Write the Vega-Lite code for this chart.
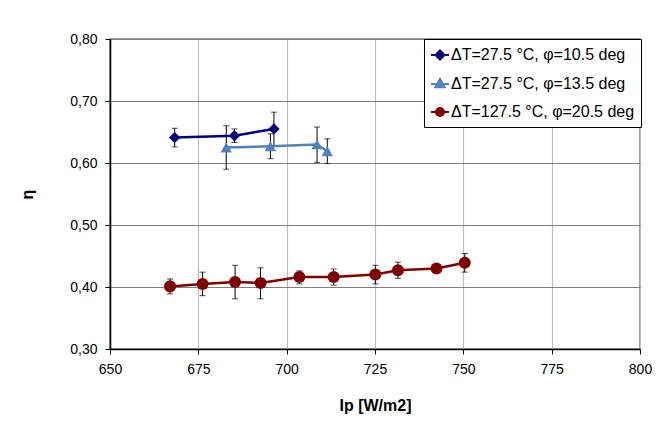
{
  "$schema": "https://vega.github.io/schema/vega-lite/v6.json",
  "autosize": {"type": "none"},
  "width": 530,
  "height": 310,
  "padding": {"left": 110, "top": 39, "right": 27, "bottom": 88},
  "background": "white",
  "config": {
    "font": "Liberation Sans",
    "view": {"stroke": "#7f7f7f", "strokeWidth": 1.5},
    "axis": {"labelFont": "Liberation Sans", "titleFont": "Liberation Sans", "labelColor": "black", "titleColor": "black"},
    "legend": {
      "orient": "none", "legendX": 314, "legendY": 0,
      "fillColor": "white", "strokeColor": "black", "padding": 6,
      "labelFont": "Liberation Sans", "labelFontSize": 16, "labelColor": "black", "labelLimit": 400,
      "labelOffset": 1, "rowPadding": 10, "symbolSize": 324, "symbolStrokeWidth": 2, "symbolOpacity": 1
    }
  },
  "data": {
    "values": [
      {"series": "ΔT=27.5 °C, φ=10.5 deg", "ip": 668.3, "eta": 0.641, "lo": 0.626, "hi": 0.656},
      {"series": "ΔT=27.5 °C, φ=10.5 deg", "ip": 685.2, "eta": 0.644, "lo": 0.633, "hi": 0.655},
      {"series": "ΔT=27.5 °C, φ=10.5 deg", "ip": 696.4, "eta": 0.655, "lo": 0.628, "hi": 0.682},
      {"series": "ΔT=27.5 °C, φ=13.5 deg", "ip": 682.9, "eta": 0.625, "lo": 0.590, "hi": 0.660},
      {"series": "ΔT=27.5 °C, φ=13.5 deg", "ip": 695.4, "eta": 0.627, "lo": 0.607, "hi": 0.647},
      {"series": "ΔT=27.5 °C, φ=13.5 deg", "ip": 708.6, "eta": 0.630, "lo": 0.601, "hi": 0.658},
      {"series": "ΔT=27.5 °C, φ=13.5 deg", "ip": 711.5, "eta": 0.619, "lo": 0.599, "hi": 0.639},
      {"series": "ΔT=127.5 °C, φ=20.5 deg", "ip": 667.0, "eta": 0.401, "lo": 0.389, "hi": 0.413},
      {"series": "ΔT=127.5 °C, φ=20.5 deg", "ip": 676.2, "eta": 0.405, "lo": 0.386, "hi": 0.424},
      {"series": "ΔT=127.5 °C, φ=20.5 deg", "ip": 685.4, "eta": 0.408, "lo": 0.381, "hi": 0.435},
      {"series": "ΔT=127.5 °C, φ=20.5 deg", "ip": 692.6, "eta": 0.4065, "lo": 0.381, "hi": 0.431},
      {"series": "ΔT=127.5 °C, φ=20.5 deg", "ip": 703.6, "eta": 0.416, "lo": 0.405, "hi": 0.426},
      {"series": "ΔT=127.5 °C, φ=20.5 deg", "ip": 713.3, "eta": 0.416, "lo": 0.403, "hi": 0.429},
      {"series": "ΔT=127.5 °C, φ=20.5 deg", "ip": 725.1, "eta": 0.420, "lo": 0.405, "hi": 0.435},
      {"series": "ΔT=127.5 °C, φ=20.5 deg", "ip": 731.5, "eta": 0.427, "lo": 0.414, "hi": 0.440},
      {"series": "ΔT=127.5 °C, φ=20.5 deg", "ip": 742.4, "eta": 0.430, "lo": 0.428, "hi": 0.432},
      {"series": "ΔT=127.5 °C, φ=20.5 deg", "ip": 750.4, "eta": 0.439, "lo": 0.424, "hi": 0.454}
    ]
  },
  "encoding": {
    "x": {
      "field": "ip", "type": "quantitative",
      "scale": {"domain": [650, 800], "nice": false, "zero": false},
      "axis": {
        "title": "Ip [W/m2]", "titleFontSize": 16, "titleFontWeight": "bold", "titlePadding": 21,
        "values": [650, 675, 700, 725, 750, 775, 800],
        "labelFontSize": 14, "labelPadding": 8, "tickSize": 5, "tickColor": "black",
        "domainColor": "black", "domainWidth": 1.5,
        "gridColor": "#bdbdbd", "gridWidth": 1.2, "labelFlush": false
      }
    },
    "y": {
      "type": "quantitative",
      "scale": {"domain": [0.3, 0.8], "nice": false, "zero": false},
      "axis": {
        "title": "η", "titleFontSize": 16, "titleFontWeight": "bold", "titlePadding": 34,
        "values": [0.3, 0.4, 0.5, 0.6, 0.7, 0.8],
        "labelExpr": "replace(format(datum.value, '.2f'), '.', ',')",
        "labelFontSize": 14, "labelPadding": 8, "tickSize": 5, "tickColor": "black",
        "domainColor": "black", "domainWidth": 1.5,
        "gridColor": "#7f7f7f", "gridWidth": 1.2
      }
    }
  },
  "layer": [
    {
      "mark": {"type": "rule", "color": "black", "strokeWidth": 1},
      "encoding": {"y": {"field": "lo", "type": "quantitative"}, "y2": {"field": "hi"}}
    },
    {
      "mark": {"type": "tick", "orient": "horizontal", "color": "black", "size": 6, "thickness": 1},
      "encoding": {"y": {"field": "lo", "type": "quantitative"}}
    },
    {
      "mark": {"type": "tick", "orient": "horizontal", "color": "black", "size": 6, "thickness": 1},
      "encoding": {"y": {"field": "hi", "type": "quantitative"}}
    },
    {
      "mark": {"type": "line", "strokeWidth": 2.5},
      "encoding": {
        "y": {"field": "eta", "type": "quantitative"},
        "stroke": {
          "field": "series", "type": "nominal", "title": null,
          "scale": {"domain": ["ΔT=27.5 °C, φ=10.5 deg", "ΔT=27.5 °C, φ=13.5 deg", "ΔT=127.5 °C, φ=20.5 deg"], "range": ["#000080", "#4f81bd", "#800000"]}
        }
      }
    },
    {
      "transform": [{"filter": {"field": "series", "equal": "ΔT=27.5 °C, φ=10.5 deg"}}],
      "mark": {"type": "point", "shape": "diamond", "filled": true, "opacity": 1, "strokeWidth": 0, "size": 130},
      "encoding": {
        "y": {"field": "eta", "type": "quantitative"},
        "fill": {
          "field": "series", "type": "nominal", "title": null,
          "scale": {"domain": ["ΔT=27.5 °C, φ=10.5 deg", "ΔT=27.5 °C, φ=13.5 deg", "ΔT=127.5 °C, φ=20.5 deg"], "range": ["#000080", "#4f81bd", "#800000"]}
        }
      }
    },
    {
      "transform": [{"filter": {"field": "series", "equal": "ΔT=27.5 °C, φ=13.5 deg"}}],
      "mark": {"type": "point", "shape": "triangle-up", "filled": true, "opacity": 1, "strokeWidth": 0, "size": 130},
      "encoding": {
        "y": {"field": "eta", "type": "quantitative"},
        "fill": {
          "field": "series", "type": "nominal", "title": null,
          "scale": {"domain": ["ΔT=27.5 °C, φ=10.5 deg", "ΔT=27.5 °C, φ=13.5 deg", "ΔT=127.5 °C, φ=20.5 deg"], "range": ["#000080", "#4f81bd", "#800000"]}
        }
      }
    },
    {
      "transform": [{"filter": {"field": "series", "equal": "ΔT=127.5 °C, φ=20.5 deg"}}],
      "mark": {"type": "point", "shape": "circle", "filled": true, "opacity": 1, "strokeWidth": 0, "size": 145},
      "encoding": {
        "y": {"field": "eta", "type": "quantitative"},
        "fill": {
          "field": "series", "type": "nominal", "title": null,
          "scale": {"domain": ["ΔT=27.5 °C, φ=10.5 deg", "ΔT=27.5 °C, φ=13.5 deg", "ΔT=127.5 °C, φ=20.5 deg"], "range": ["#000080", "#4f81bd", "#800000"]}
        }
      }
    },
    {
      "mark": {"type": "point", "filled": true, "opacity": 0},
      "encoding": {
        "y": {"field": "eta", "type": "quantitative"},
        "fill": {"field": "series", "type": "nominal", "title": null},
        "stroke": {"field": "series", "type": "nominal", "title": null},
        "shape": {
          "field": "series", "type": "nominal", "title": null,
          "scale": {"domain": ["ΔT=27.5 °C, φ=10.5 deg", "ΔT=27.5 °C, φ=13.5 deg", "ΔT=127.5 °C, φ=20.5 deg"], "range": ["M-1,0H1M0,-0.5L0.5,0L0,0.5L-0.5,0Z", "M-1,0H1M0,-0.55L0.5,0.35L-0.5,0.35Z", "M-1,0H1M-0.45,0A0.45,0.45,0,1,1,0.45,0A0.45,0.45,0,1,1,-0.45,0Z"]}
        }
      }
    }
  ]
}
